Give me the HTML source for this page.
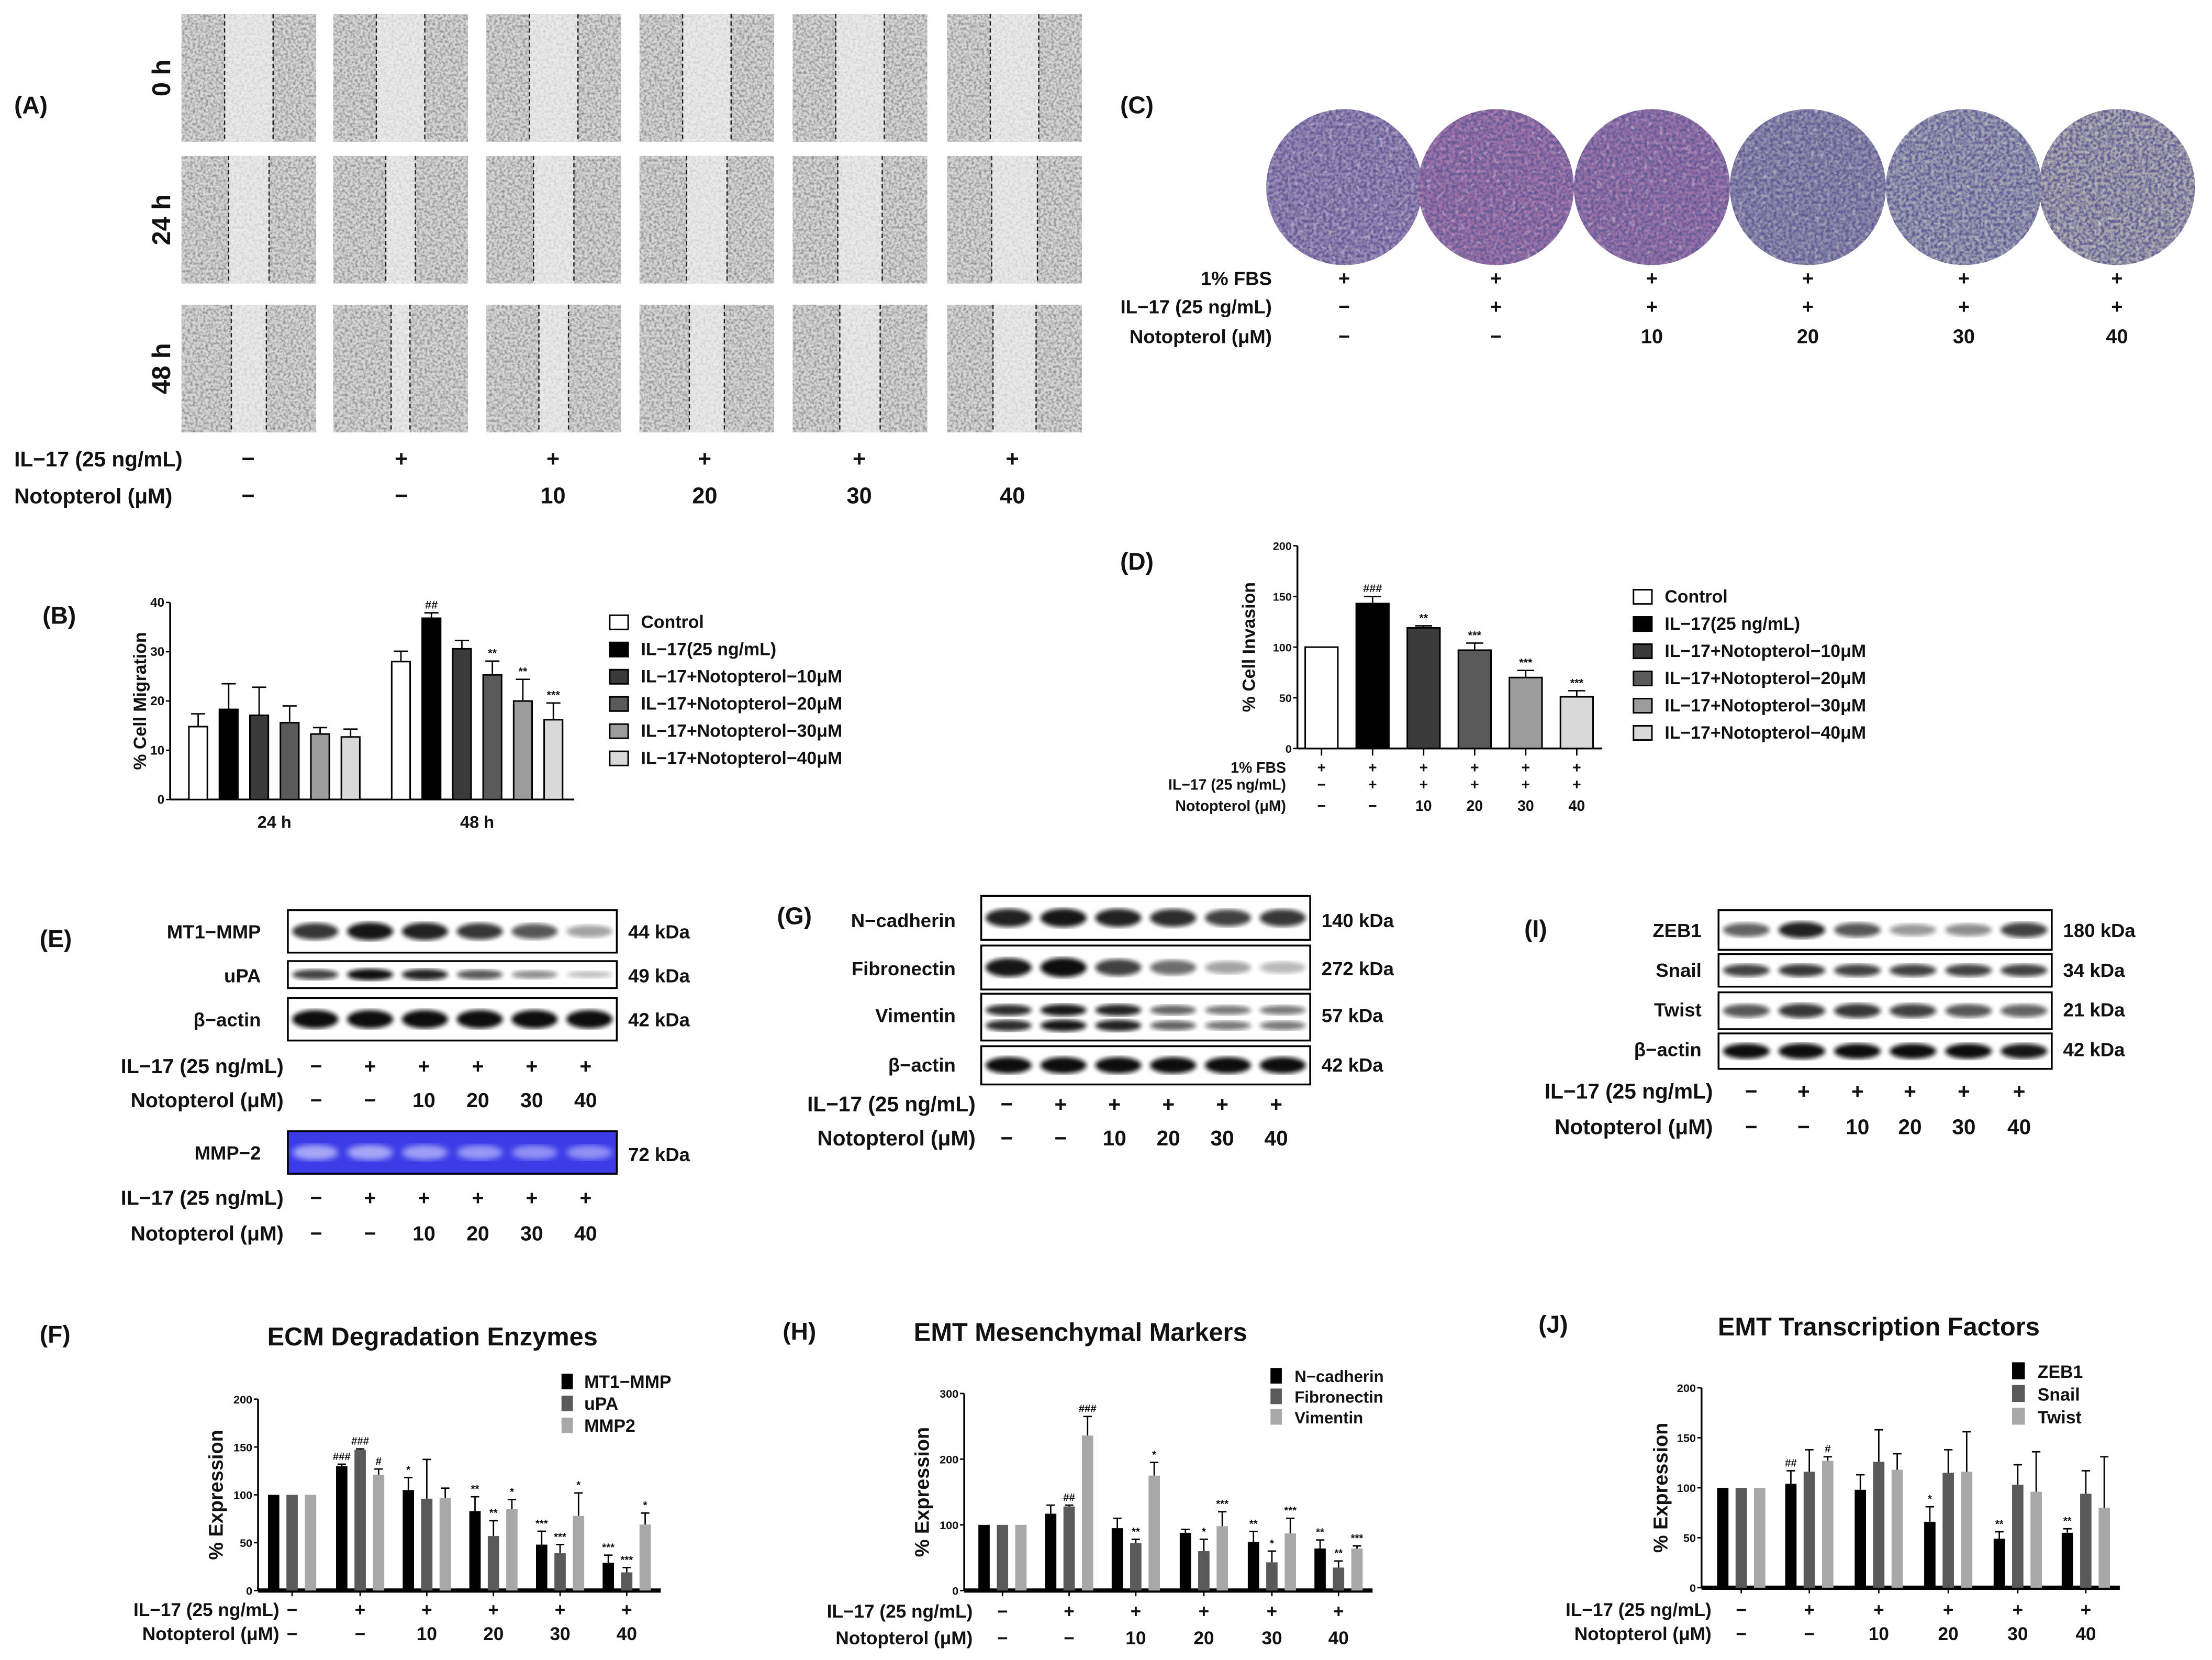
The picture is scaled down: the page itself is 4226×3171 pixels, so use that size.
<!DOCTYPE html>
<html><head><meta charset="utf-8">
<style>
html,body{margin:0;padding:0;background:#fff;}
svg{display:block;}
text{font-family:"Liberation Sans Narrow","Liberation Sans",sans-serif;font-weight:bold;fill:#111;}
</style></head>
<body>
<svg id="fig" xmlns="http://www.w3.org/2000/svg" width="4226" height="3171" viewBox="0 0 1560 1171" preserveAspectRatio="none">
<defs>
<filter id="noise" x="0" y="0" width="100%" height="100%">
<feTurbulence type="fractalNoise" baseFrequency="0.55" numOctaves="2" seed="3"/>
<feColorMatrix type="matrix" values="0 0 0 0 0.2  0 0 0 0 0.2  0 0 0 0 0.2  0 0 0 2.2 -0.85"/>
<feComposite operator="in" in2="SourceGraphic"/>
</filter>
<filter id="noiseP" x="0" y="0" width="100%" height="100%">
<feTurbulence type="fractalNoise" baseFrequency="0.45" numOctaves="2" seed="7"/>
<feColorMatrix type="matrix" values="0 0 0 0 0.12  0 0 0 0 0.1  0 0 0 0 0.3  0 0 0 2.6 -0.9"/>
<feComposite operator="in" in2="SourceGraphic"/>
</filter>
<filter id="noiseL" x="0" y="0" width="100%" height="100%">
<feTurbulence type="fractalNoise" baseFrequency="0.3" numOctaves="1" seed="11"/>
<feColorMatrix type="matrix" values="0 0 0 0 0.85  0 0 0 0 0.9  0 0 0 0 0.8  0 0 0 2 -1.0"/>
<feComposite operator="in" in2="SourceGraphic"/>
</filter>
<filter id="blur"><feGaussianBlur stdDeviation="1.6"/></filter>
<filter id="blurW"><feGaussianBlur stdDeviation="2.2"/></filter>
</defs>
</svg>
<script>
// ---------- data ----------
const bCategories = ["24 h","48 h"];
const bLegend = ["Control","IL−17(25 ng/mL)","IL−17+Notopterol−10μM","IL−17+Notopterol−20μM","IL−17+Notopterol−30μM","IL−17+Notopterol−40μM"];
const bMeans = [[14.8,28.0],[18.3,36.8],[17.1,30.6],[15.6,25.3],[13.3,20.0],[12.7,16.2]];
const bErrTop = [[17.4,30.1],[23.5,37.9],[22.8,32.3],[19.0,28.1],[14.6,24.4],[14.3,19.6]];
const bAnnot = [["",""],["","##"],["",""],["","**"],["","**"],["","***"]];
const bTicks = [0,10,20,30,40];

const dMeans = [[100],[143],[119],[97],[70],[51]];
const dErrTop = [[100],[150],[121],[104],[77],[57]];
const dAnnot = [[""],["###"],["**"],["***"],["***"],["***"]];
const dTicks = [0,50,100,150,200];

const il17Row = ["−","+","+","+","+","+"];
const notoRow = ["−","−","10","20","30","40"];
const fbsRow = ["+","+","+","+","+","+"];

const fLegend = ["MT1−MMP","uPA","MMP2"];
const fMeans = [[100,130,105,83,48,29],[100,147,96,57,39,19],[100,121,97,85,78,69]];
const fErrTop = [[100,132,118,98,62,37],[100,148,137,73,48,24],[100,127,107,95,102,81]];
const fAnnot = [["","###","*","**","***","***"],["","###","","**","***","***"],["","#","","*","*","*"]];
const fTicks = [0,50,100,150,200];

const hLegend = ["N−cadherin","Fibronectin","Vimentin"];
const hMeans = [[100,117,95,88,74,64],[100,128,72,60,43,35],[100,236,175,98,87,64]];
const hErrTop = [[100,130,110,93,90,77],[100,130,78,78,60,45],[100,265,195,120,110,68]];
const hAnnot = [["","","","","**","**"],["","##","**","*","*","**"],["","###","*","***","***","***"]];
const hTicks = [0,100,200,300];

const jLegend = ["ZEB1","Snail","Twist"];
const jMeans = [[100,104,98,66,49,55],[100,116,126,115,103,94],[100,127,118,116,96,80]];
const jErrTop = [[100,117,113,81,56,59],[100,138,158,138,123,117],[100,131,134,156,136,131]];
const jAnnot = [["","##","","*","**","**"],["","","","","",""],["","#","","","",""]];
const jTicks = [0,50,100,150,200];

// ---------- helpers ----------
const NS="http://www.w3.org/2000/svg";
const svg=document.getElementById('fig');
function mk(tag,attrs,parent){const e=document.createElementNS(NS,tag);for(const k in attrs)e.setAttribute(k,attrs[k]);(parent||svg).appendChild(e);return e;}
function grp(name){const g=mk('g',{});


return g;}
function txt(x,y,s,size,anchor,parent,name,rot){const t=mk('text',{x:x,y:y,'font-size':size,'text-anchor':anchor||'start'},parent);
if(rot)t.setAttribute('transform','rotate(-90 '+x+' '+y+')');
t.textContent=s;


return t;}

// panel labels
[["(A)",10,80],["(C)",790,80],["(B)",30,440],["(D)",790,402],["(E)",28,668],["(G)",548,652],["(I)",1075,661],["(F)",28,947],["(H)",552,945],["(J)",1085,940]].forEach(p=>{
 txt(p[1],p[2],p[0],17,'start',svg,'panel-label');
});

// ---------- Panel A: scratch micrographs ----------
(function(){
 const g=grp('panel-a-micrographs');
 const cols=[128,235,343,451,559,668], rows=[10,110,215], w=95, h=90;
 const gaps=[[0.36,0.36,0.36,0.36,0.36,0.36],[0.30,0.22,0.30,0.30,0.33,0.34],[0.26,0.14,0.22,0.26,0.30,0.32]];
 rows.forEach((ry,ri)=>cols.forEach((cx,ci)=>{
  const cell=mk('g',{},g);
  
  
  mk('rect',{x:cx,y:ry,width:w,height:h,fill:'#d6d6d6'},cell);
  const gw=gaps[ri][ci]*w, gx=cx+(w-gw)/2;
  mk('rect',{x:gx,y:ry,width:gw,height:h,fill:'#e8e8e8'},cell);
  mk('rect',{x:cx,y:ry,width:w,height:h,fill:'#000',filter:'url(#noise)',opacity:0.85},cell);
  mk('rect',{x:gx,y:ry,width:gw,height:h,fill:'#ebebeb',opacity:0.7},cell);
  mk('line',{x1:gx,y1:ry,x2:gx,y2:ry+h,stroke:'#222','stroke-width':0.9,'stroke-dasharray':'3,2'},cell);
  mk('line',{x1:gx+gw,y1:ry,x2:gx+gw,y2:ry+h,stroke:'#222','stroke-width':0.9,'stroke-dasharray':'3,2'},cell);
 }));
 ["0 h","24 h","48 h"].forEach((s,i)=>txt(120,rows[i]+45,s,18,'middle',g,'time-label',true));
 const cx=[175,283,390,497,606,714];
 txt(10,329,"IL−17 (25 ng/mL)",15,'start',g,'il17-row-label');
 txt(10,355,"Notopterol (μM)",15,'start',g,'notopterol-row-label');
 cx.forEach((x,i)=>{txt(x,329,il17Row[i],16,'middle',g,'il17-value');txt(x,355,notoRow[i],16,'middle',g,'notopterol-value');});
})();

// ---------- Panel C: transwell circles ----------
(function(){
 const g=grp('panel-c-transwell');
 const cx=[948,1055,1165,1275,1385,1493], cy=132, r=55;
 const fills=['#9a88b4','#a070a8','#9a70a8','#8c8caa','#9aa0b0','#a8a8ac'];
 cx.forEach((x,i)=>{
  const c=mk('g',{},g);
  
  
  mk('circle',{cx:x,cy:cy,r:r,fill:fills[i]},c);
  mk('circle',{cx:x,cy:cy,r:r,fill:'#000',filter:'url(#noiseL)',opacity:0.6},c);
  mk('circle',{cx:x,cy:cy,r:r,fill:'#000',filter:'url(#noiseP)'},c);
 });
 const rows=[["1% FBS",fbsRow,201],["IL−17 (25 ng/mL)",il17Row,221],["Notopterol (μM)",notoRow,242]];
 rows.forEach(rw=>{txt(897,rw[2],rw[0],13.5,'end',g,'row-label');cx.forEach((x,i)=>txt(x,rw[2],rw[1][i],14,'middle',g,'row-value'));});
})();

// ---------- generic bar chart ----------
function barChart(o){
 const g=grp(o.name);
 const y=v=>o.y0-v/o.vmax*(o.y0-o.yTop);
 mk('line',{x1:o.x0,y1:o.yTop,x2:o.x0,y2:o.y0,stroke:'#000','stroke-width':1.3},g);
 mk('line',{x1:o.x0,y1:o.y0,x2:o.xEnd,y2:o.y0,stroke:'#000','stroke-width':o.baseW||1.3},g);
 o.ticks.forEach(t=>{mk('line',{x1:o.x0-3,y1:y(t),x2:o.x0,y2:y(t),stroke:'#000','stroke-width':1},g);
  txt(o.x0-4,y(t)+3,String(t),o.tickFs||9,'end',g,'y-tick-label');});
 txt(o.ylabX,(o.yTop+o.y0)/2,o.ylab,o.ylabFs||13,'middle',g,'y-axis-title',true).setAttribute('style','font-family:"Liberation Sans",sans-serif');
 const nS=o.means.length, nG=o.means[0].length;
 for(let s=0;s<nS;s++)for(let gi=0;gi<nG;gi++){
  const v=o.means[s][gi], bx=o.centers[gi]+o.offsets[s]-o.bw/2;
  const r=mk('rect',{x:bx,y:y(v),width:o.bw,height:o.y0-y(v),fill:o.colors[s],stroke:o.stroke?'#000':'none','stroke-width':1.1},g);
  
  
  const e=o.errs[s][gi], mx=bx+o.bw/2;
  if(e>v){mk('line',{x1:mx,y1:y(v),x2:mx,y2:y(e),stroke:'#000','stroke-width':1},g);
   mk('line',{x1:mx-o.cap,y1:y(e),x2:mx+o.cap,y2:y(e),stroke:'#000','stroke-width':1},g);}
  const a=o.annot[s][gi];
  if(a)txt(mx,y(e)-3,a,o.annFs||8,'middle',g,'significance-mark');
 }
 if(o.catLabels)o.catLabels.forEach((c,i)=>txt(o.centers[i],o.y0+20,c,12,'middle',g,'x-category-label'));
 if(o.xTicks)o.centers.forEach(c=>mk('line',{x1:c,y1:o.y0,x2:c,y2:o.y0+4,stroke:'#000','stroke-width':1},g));
 o.legend.forEach((l,i)=>{
  const ly=o.legY+i*o.legDy;
  const r=mk('rect',{x:o.legX,y:ly-o.legBox+1,width:o.legBoxW||o.legBox,height:o.legBox,fill:o.colors[i],stroke:o.stroke?'#000':'none','stroke-width':1.1},g);
  
  
  txt(o.legX+o.legTx,ly,l,o.legFs,'start',g,'legend-entry');
 });
 return g;
}

const grey6=['#ffffff','#000000','#3a3a3a','#5a5a5a','#9c9c9c','#d9d9d9'];
barChart({name:'panel-b-migration-chart',x0:120,y0:564,yTop:425,vmax:40,xEnd:405,ticks:bTicks,
 means:bMeans,errs:bErrTop,annot:bAnnot,centers:[193.5,336.5],offsets:[-53.75,-32.25,-10.75,10.75,32.25,53.75],bw:13,cap:5,
 colors:grey6,stroke:true,ylab:'% Cell Migration',ylabX:103,ylabFs:12.5,catLabels:bCategories,
 legend:bLegend,legX:430,legY:443,legDy:19.2,legBox:10,legBoxW:13,legTx:22,legFs:12.5,tickFs:9});

barChart({name:'panel-d-invasion-chart',x0:915,y0:528,yTop:385,vmax:200,xEnd:1130,ticks:dTicks,
 means:dMeans,errs:dErrTop,annot:dAnnot,centers:[1022],offsets:[-90,-54,-18,18,54,90],bw:23,cap:6,
 colors:grey6,stroke:true,ylab:'% Cell Invasion',ylabX:885,ylabFs:12.5,xTicks:false,
 legend:bLegend,legX:1152,legY:425,legDy:19.2,legBox:10,legBoxW:13,legTx:22,legFs:12.5,tickFs:8});
(function(){const g=grp('panel-d-conditions');const cx=[932,968,1004,1040,1076,1112];
 cx.forEach(x=>mk('line',{x1:x,y1:528,x2:x,y2:533,stroke:'#000','stroke-width':1},g));
 [["1% FBS",fbsRow,545],["IL−17 (25 ng/mL)",il17Row,557],["Notopterol (μM)",notoRow,572]].forEach(rw=>{
 txt(907,rw[2],rw[0],10.5,'end',g,'row-label');cx.forEach((x,i)=>txt(x,rw[2],rw[1][i],10.5,'middle',g,'row-value'));});})();

const grey3=['#000000','#5a5a5a','#a8a8a8'];
barChart({name:'panel-f-ecm-chart',x0:182,y0:1122,yTop:987,vmax:200,xEnd:466,baseW:3,ticks:fTicks,
 means:fMeans,errs:fErrTop,annot:fAnnot,centers:[206,254,301,348,395,442],offsets:[-13,0,13],bw:8,cap:3,
 colors:grey3,stroke:false,ylab:'% Expression',ylabX:157,ylabFs:14,xTicks:true,
 legend:fLegend,legX:396,legY:979,legDy:15.5,legBox:11,legBoxW:8,legTx:16,legFs:12.5,tickFs:8,annFs:7.5});
txt(305,949,'ECM Degradation Enzymes',18,'middle',svg,'chart-title-f');

barChart({name:'panel-h-emt-markers-chart',x0:680,y0:1122,yTop:983,vmax:300,xEnd:968,baseW:3,ticks:hTicks,
 means:hMeans,errs:hErrTop,annot:hAnnot,centers:[707,754,801,849,897,944],offsets:[-13,0,13],bw:8,cap:3,
 colors:grey3,stroke:false,ylab:'% Expression',ylabX:655,ylabFs:14,xTicks:true,
 legend:hLegend,legX:896,legY:975,legDy:14.5,legBox:11,legBoxW:8,legTx:17,legFs:11.5,tickFs:8,annFs:7.5});
txt(762,946,'EMT Mesenchymal Markers',18,'middle',svg,'chart-title-h');

barChart({name:'panel-j-emt-tf-chart',x0:1200,y0:1120,yTop:979,vmax:200,xEnd:1495,baseW:3,ticks:jTicks,
 means:jMeans,errs:jErrTop,annot:jAnnot,centers:[1228,1276,1325,1374,1423,1471],offsets:[-13,0,13],bw:8,cap:3,
 colors:grey3,stroke:false,ylab:'% Expression',ylabX:1176,ylabFs:14,xTicks:true,
 legend:jLegend,legX:1419,legY:972,legDy:16,legBox:12,legBoxW:9,legTx:18,legFs:12.5,tickFs:8,annFs:7.5});
txt(1325,942,'EMT Transcription Factors',18,'middle',svg,'chart-title-j');

[[197,[206,254,301,348,395,442],1140,1157],[686,[707,754,801,849,897,944],1141,1160],[1207,[1228,1276,1325,1374,1423,1471],1140,1157]].forEach(c=>{
 const g=grp('expression-conditions');
 txt(c[0],c[2],"IL−17 (25 ng/mL)",13,'end',g,'il17-row-label');
 txt(c[0],c[3],"Notopterol (μM)",13,'end',g,'notopterol-row-label');
 c[1].forEach((x,i)=>{txt(x,c[2],il17Row[i],13,'middle',g,'il17-value');txt(x,c[3],notoRow[i],13,'middle',g,'notopterol-value');});
});

// ---------- Western blots ----------
function blot(name,x,y,w,h,bands,intens,bg,bandColor,double){
 const g=grp(name);
 mk('rect',{x:x,y:y,width:w,height:h,fill:bg||'#fff',stroke:'#000','stroke-width':1.3},g);
 const lw=w/6;
 intens.forEach((k,i)=>{
  const cx=x+lw*(i+0.5);
  const ys=double?[y+h*0.35,y+h*0.68]:[y+h*0.5];
  ys.forEach((yy,j)=>{
   const e=mk('ellipse',{cx:cx,cy:yy,rx:lw*0.42,ry:Math.max(1.8,h*(double?0.12:0.2)*(0.6+0.5*k)),fill:bandColor||'#111',opacity:Math.min(1,0.15+k*0.9),filter:bg?'url(#blurW)':'url(#blur)'},g);
   
   
  });
 });
 return g;
}
function blotLabels(g,lx,kx,rows){rows.forEach(r=>{txt(lx,r[1],r[0],13.5,'end',g,'protein-label');if(r[2])txt(kx,r[1],r[2],13.5,'start',g,'kda-label');});}
function condRows(g,lx,cx,y1,y2,fs){txt(lx,y1,"IL−17 (25 ng/mL)",fs,'end',g,'il17-row-label');txt(lx,y2,"Notopterol (μM)",fs,'end',g,'notopterol-row-label');
 cx.forEach((x,i)=>{txt(x,y1,il17Row[i],fs,'middle',g,'il17-value');txt(x,y2,notoRow[i],fs,'middle',g,'notopterol-value');});}

(function(){const g=grp('panel-e-blots');
 blot('mt1-mmp-blot',203,642,232,30,null,[0.75,0.9,0.85,0.75,0.6,0.25]);
 blot('upa-blot',203,678,232,19,null,[0.7,0.95,0.85,0.6,0.35,0.12]);
 blot('beta-actin-blot-e',203,704,232,30,null,[0.95,0.95,0.95,0.95,0.95,0.95]);
 blotLabels(g,184,443,[["MT1−MMP",662,"44 kDa"],["uPA",693,"49 kDa"],["β−actin",724,"42 kDa"]]);
 condRows(g,200,[223,261,299,337,375,413],757,781,14.5);
 blot('mmp2-zymogram',203,798,232,30,null,[0.6,0.6,0.55,0.5,0.45,0.45],'#3b3be8','#d8d8ff');
 blotLabels(g,184,818,[["MMP−2",818,""]]);txt(443,819,"72 kDa",13.5,'start',g,'kda-label');
 condRows(g,200,[223,261,299,337,375,413],850,875,14.5);
})();
(function(){const g=grp('panel-g-blots');
 blot('n-cadherin-blot',692,632,232,31,null,[0.85,0.9,0.85,0.8,0.7,0.75]);
 blot('fibronectin-blot',692,667,232,31,null,[0.9,1,0.7,0.5,0.25,0.15]);
 blot('vimentin-blot',692,701,232,33,null,[0.8,0.9,0.85,0.55,0.45,0.45],null,null,true);
 blot('beta-actin-blot-g',692,738,232,27,null,[0.95,0.95,0.95,0.95,0.95,0.95]);
 blotLabels(g,674,932,[["N−cadherin",654,"140 kDa"],["Fibronectin",688,"272 kDa"],["Vimentin",721,"57 kDa"],["β−actin",756,"42 kDa"]]);
 condRows(g,688,[710,748,786,824,862,900],784,808,15);
})();
(function(){const g=grp('panel-i-blots');
 blot('zeb1-blot',1212,642,235,28,null,[0.55,0.85,0.6,0.3,0.35,0.7]);
 blot('snail-blot',1212,673,235,23,null,[0.7,0.75,0.7,0.7,0.7,0.7]);
 blot('twist-blot',1212,700,235,26,null,[0.6,0.75,0.75,0.7,0.6,0.55]);
 blot('beta-actin-blot-i',1212,729,235,25,null,[0.95,1,0.95,0.95,0.95,0.9]);
 blotLabels(g,1200,1455,[["ZEB1",661,"180 kDa"],["Snail",689,"34 kDa"],["Twist",717,"21 kDa"],["β−actin",745,"42 kDa"]]);
 condRows(g,1208,[1235,1272,1310,1347,1385,1424],775,800,15);
})();
</script>
</body></html>
